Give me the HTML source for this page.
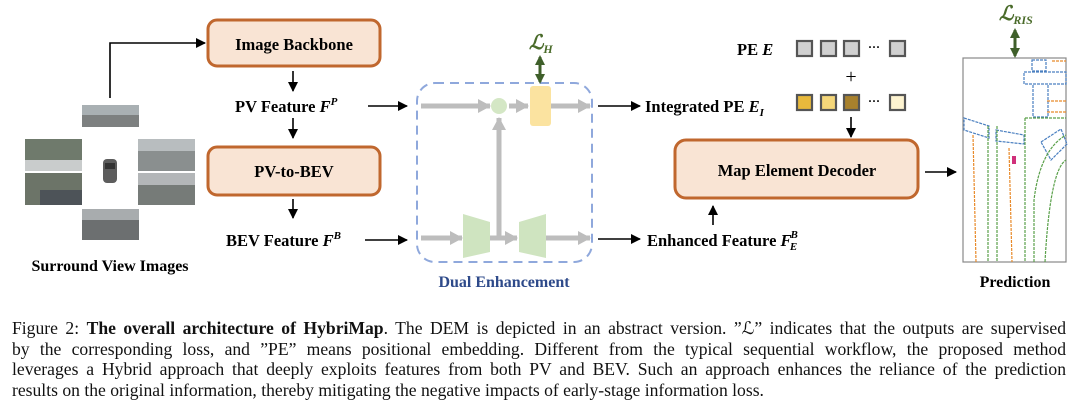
<!DOCTYPE html>
<html><head><meta charset="utf-8"><style>
body{margin:0;width:1080px;height:408px;background:#fff;overflow:hidden;position:relative;font-family:"Liberation Serif",serif}
svg{position:absolute;left:0;top:0}
.cap{position:absolute;left:12px;width:1054px;font-size:17.6px;line-height:20.5px;color:#111;white-space:nowrap}
.cap span.l{display:block;text-align:justify;text-align-last:justify}
</style></head><body>
<svg width="1080" height="300" viewBox="0 0 1080 300" font-family="Liberation Serif, serif">
<defs>
<marker id="a" markerWidth="10" markerHeight="10" refX="9" refY="5" orient="auto" markerUnits="userSpaceOnUse"><path d="M0,0 L10,5 L0,10z" fill="#000"/></marker>
<marker id="g" markerWidth="14" markerHeight="14" refX="12" refY="7" orient="auto" markerUnits="userSpaceOnUse"><path d="M0,0 L13,7 L0,14z" fill="#bdbdbd"/></marker>
<marker id="gr" markerWidth="10" markerHeight="10" refX="8" refY="5" orient="auto-start-reverse" markerUnits="userSpaceOnUse"><path d="M0,0 L10,5 L0,10z" fill="#3f5f2a"/></marker>
</defs>
<g stroke="#000" stroke-width="1.6" fill="none" marker-end="url(#a)">
<path d="M110,98 V43 H205"/>
<path d="M293,71 V91"/><path d="M293,118 V138"/><path d="M293,199 V218"/>
<path d="M368,106 H407"/><path d="M365,240 H407"/>
<path d="M598,106 H640"/><path d="M598,239 H640"/>
<path d="M851,117 V137"/><path d="M713,225 V206"/><path d="M925,172 H956"/>
</g>
<rect x="208" y="20" width="172" height="46" rx="9" fill="#f9e4d4" stroke="#c0672e" stroke-width="3"/>
<text x="294" y="50" font-size="16.5" font-weight="bold" text-anchor="middle">Image Backbone</text>
<rect x="208" y="147" width="172" height="48" rx="9" fill="#f9e4d4" stroke="#c0672e" stroke-width="3"/>
<text x="294" y="177" font-size="16.5" font-weight="bold" text-anchor="middle">PV-to-BEV</text>
<text x="235" y="112" font-size="16.5" font-weight="bold">PV Feature <tspan font-style="italic">F</tspan><tspan font-style="italic" font-size="11" dy="-7">P</tspan></text>
<text x="226" y="246" font-size="16.5" font-weight="bold">BEV Feature <tspan font-style="italic">F</tspan><tspan font-style="italic" font-size="11" dy="-7">B</tspan></text>
<rect x="82" y="105" width="57" height="22" fill="#7d8080"/><rect x="82" y="105" width="57" height="10" fill="#a9b0b3"/>
<rect x="25" y="139" width="57" height="32" fill="#6f7a6c"/><rect x="25" y="160" width="57" height="11" fill="#c9cccc"/>
<rect x="25" y="173" width="57" height="32" fill="#6c7468"/><rect x="40" y="190" width="42" height="15" fill="#4d5358"/>
<rect x="138" y="139" width="57" height="32" fill="#8a8f8f"/><rect x="138" y="139" width="57" height="12" fill="#b8bdbf"/>
<rect x="138" y="173" width="57" height="32" fill="#767b78"/><rect x="138" y="173" width="57" height="12" fill="#b3b6b8"/>
<rect x="82" y="209" width="57" height="31" fill="#6c6f70"/><rect x="82" y="209" width="57" height="11" fill="#a8acae"/>
<rect x="103" y="159" width="14" height="24" rx="4" fill="#5d5d5d"/><rect x="105" y="163" width="10" height="6" fill="#333"/>
<text x="110" y="271" font-size="16" font-weight="bold" text-anchor="middle">Surround View Images</text>
<rect x="417" y="83" width="175" height="179" rx="18" fill="none" stroke="#8fa8dc" stroke-width="2" stroke-dasharray="9,6"/>
<g stroke="#bdbdbd" stroke-width="5" fill="none" marker-end="url(#g)">
<path d="M421,106 H490"/><path d="M509,106 H528"/><path d="M551,106 H590"/>
<path d="M499,237 V118"/>
<path d="M421,238 H462"/><path d="M490,238 H517"/><path d="M546,238 H590"/>
</g>
<circle cx="499" cy="106" r="8" fill="#d4e7c5"/>
<rect x="530" y="86" width="21" height="40" rx="3" fill="#fbe3a0"/>
<path d="M463,214 L490,222 L490,252 L463,258z" fill="#cfe4c0"/>
<path d="M519,222 L546,214 L546,258 L519,252z" fill="#cfe4c0"/>
<text x="504" y="287" font-size="16" font-weight="bold" fill="#2e4a8a" text-anchor="middle">Dual Enhancement</text>
<path d="M540,57 V82" stroke="#3f5f2a" stroke-width="3" marker-start="url(#gr)" marker-end="url(#gr)"/>
<text x="529" y="49" font-size="20" font-style="italic" font-weight="bold" fill="#4a6b2a">ℒ<tspan font-size="12" dy="4">H</tspan></text>
<text x="737" y="55" font-size="16.5" font-weight="bold">PE <tspan font-style="italic">E</tspan></text>
<g stroke="#555" stroke-width="2.2">
<rect x="797" y="41" width="15" height="15" fill="#d0d0d0"/><rect x="821" y="41" width="15" height="15" fill="#d0d0d0"/><rect x="844" y="41" width="15" height="15" fill="#d0d0d0"/><rect x="890" y="41" width="15" height="15" fill="#d0d0d0"/>
<rect x="797" y="95" width="15" height="15" fill="#e8b93c"/><rect x="821" y="95" width="15" height="15" fill="#f5d77a"/><rect x="844" y="95" width="15" height="15" fill="#a8812d"/><rect x="890" y="95" width="15" height="15" fill="#fdf3d0"/>
</g>
<text x="874" y="51" font-size="12" font-weight="bold" text-anchor="middle">···</text>
<text x="874" y="105" font-size="12" font-weight="bold" text-anchor="middle">···</text>
<text x="851" y="83" font-size="20" text-anchor="middle">+</text>
<text x="645" y="112" font-size="16.5" font-weight="bold">Integrated PE <tspan font-style="italic">E</tspan><tspan font-style="italic" font-size="11" dy="4">I</tspan></text>
<text x="647" y="246" font-size="16.5" font-weight="bold">Enhanced  Feature <tspan font-style="italic">F</tspan><tspan font-style="italic" font-size="11" dx="-1" dy="-8">B</tspan><tspan font-style="italic" font-size="11" dx="-8" dy="12">E</tspan></text>
<rect x="675" y="140" width="243" height="58" rx="11" fill="#f9e4d4" stroke="#c0672e" stroke-width="3"/>
<text x="797" y="176" font-size="16.5" font-weight="bold" text-anchor="middle">Map Element Decoder</text>
<rect x="963" y="58" width="103" height="204" fill="#fff" stroke="#888" stroke-width="1.2"/>
<g fill="none" stroke-width="1.2" stroke-dasharray="3,1">
<path d="M1032,60 h14 v11 h-14z M1024,72 h42 v12 h-42z M1033,84 h15 v33 h-15z M964,118 l25,8 v12 l-25,-8z M996,130 l28,5 v9 l-28,-3z M1041,142 l20,-13 6,15 -16,16z" stroke="#4a7fc0"/>
<path d="M988,126 V262 M997,126 V262 M1025,118 V262 M1025,118 H1066 M1034,262 V200 Q1040,150 1066,135 M1045,262 Q1050,170 1066,160" stroke="#5aa04a"/>
<path d="M973,135 L976,262 M1009,148 L1012,262 M1052,61 H1066 M1047,101 H1066 M1047,112 H1066" stroke="#e88a2a"/>
</g>
<rect x="1012" y="156" width="4" height="8" fill="#d0307a"/>
<path d="M1015,30 V56" stroke="#3f5f2a" stroke-width="3" marker-start="url(#gr)" marker-end="url(#gr)"/>
<text x="999" y="20" font-size="20" font-style="italic" font-weight="bold" fill="#4a6b2a">ℒ<tspan font-size="12" dy="4">RIS</tspan></text>
<text x="1015" y="287" font-size="16" font-weight="bold" text-anchor="middle">Prediction</text>
</svg>
<div class="cap" style="top:318px">
<span class="l">Figure 2: <b>The overall architecture of HybriMap</b>. The DEM is depicted in an abstract version. ”ℒ” indicates that the outputs are supervised</span>
<span class="l">by the corresponding loss, and ”PE” means positional embedding. Different from the typical sequential workflow, the proposed method</span>
<span class="l">leverages a Hybrid approach that deeply exploits features from both PV and BEV. Such an approach enhances the reliance of the prediction</span>
<span style="display:block">results on the original information, thereby mitigating the negative impacts of early-stage information loss.</span>
</div>
</body></html>
